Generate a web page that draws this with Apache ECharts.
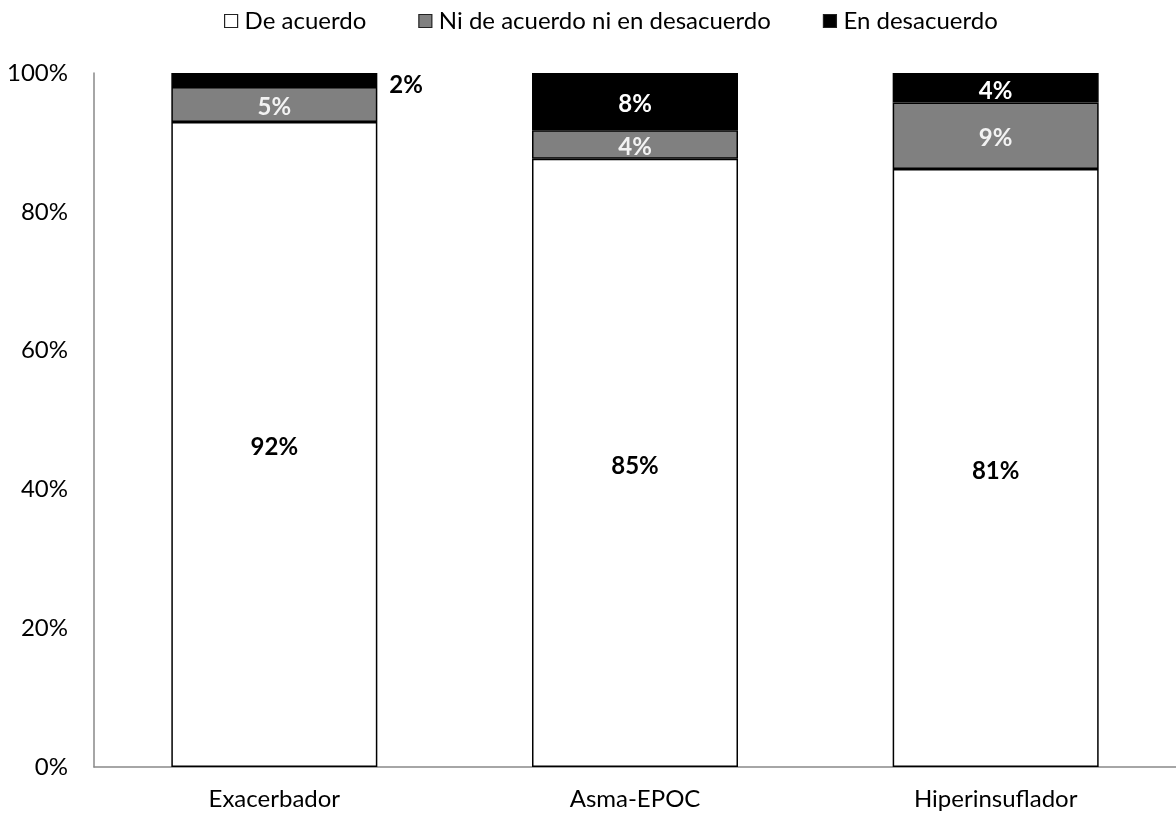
<!DOCTYPE html>
<html>
<head>
<meta charset="utf-8">
<script src="https://cdn.jsdelivr.net/npm/echarts@6/dist/echarts.min.js"></script>
<style>
  html, body { margin: 0; padding: 0; background: #fff; }
  #chart { width: 1176px; height: 816px; }
</style>
</head>
<body>
<div id="chart"></div>
<script>
// Respuestas por fenotipo (porcentajes declarados en las etiquetas)
const categories = ['Exacerbador', 'Asma-EPOC', 'Hiperinsuflador'];
const deAcuerdo = [92, 85, 81];
const niNi = [5, 4, 9];
const enDesacuerdo = [2, 8, 4];
const seriesNames = ['De acuerdo', 'Ni de acuerdo ni en desacuerdo', 'En desacuerdo'];
const yTicks = [0, 20, 40, 60, 80, 100];

const FONT = 'Lato, "Open Sans", sans-serif';
const FS = 24;

// Each column is stacked to 100% of its own total
const totals = categories.map((_, i) => deAcuerdo[i] + niNi[i] + enDesacuerdo[i]);
const toShare = (arr) => arr.map((v, i) => ({ value: v / totals[i] * 100, raw: v }));

const fills = ['#ffffff', '#808080', '#000000'];
const labelColors = ['#000000', '#f2f2f2', '#ffffff'];

function buildSeries(name, arr, idx) {
  const data = toShare(arr).map(d => {
    const item = { value: d.value, raw: d.raw };
    // Thin segments get their label beside the bar
    if (d.value < 3) {
      item.label = { position: 'right', color: '#000', distance: 12, offset: [0, 5] };
    }
    return item;
  });
  return {
    name: name,
    type: 'bar',
    stack: 'total',
    barWidth: 206,
    data: data,
    itemStyle: { color: fills[idx], borderColor: '#000', borderWidth: 1.5 },
    label: {
      show: true,
      position: 'inside',
      offset: [0, 3],
      color: labelColors[idx],
      fontFamily: FONT,
      fontWeight: 'bold',
      fontSize: FS,
      formatter: p => p.data.raw + '%'
    },
    emphasis: { disabled: true }
  };
}

const chart = echarts.init(document.getElementById('chart'), null, { renderer: 'canvas' });
chart.setOption({
  animation: false,
  backgroundColor: '#fff',
  legend: {
    top: 4,
    left: 219,
    itemWidth: 13,
    itemHeight: 13,
    itemGap: 52,
    icon: 'rect',
    textStyle: { fontFamily: FONT, fontSize: FS, color: '#000', padding: [0, 0, 0, 2] },
    data: seriesNames.map((n, i) => ({
      name: n,
      itemStyle: { color: fills[i], borderColor: '#222', borderWidth: 1.2 }
    }))
  },
  grid: { left: 94, right: -7, top: 73, bottom: 49, containLabel: false },
  xAxis: {
    type: 'category',
    data: categories,
    axisTick: { show: false },
    axisLine: { lineStyle: { color: '#898989', width: 1.5 } },
    axisLabel: { fontFamily: FONT, fontSize: FS, color: '#000', margin: 20 }
  },
  yAxis: {
    type: 'value',
    min: yTicks[0],
    max: yTicks[yTicks.length - 1],
    interval: yTicks[1] - yTicks[0],
    axisLine: { show: true, lineStyle: { color: '#898989', width: 1.5 } },
    axisTick: { show: false },
    splitLine: { show: false },
    axisLabel: { fontFamily: FONT, fontSize: FS, color: '#000', margin: 26, formatter: '{value}%' }
  },
  series: [
    buildSeries(seriesNames[0], deAcuerdo, 0),
    buildSeries(seriesNames[1], niNi, 1),
    buildSeries(seriesNames[2], enDesacuerdo, 2)
  ]
});
</script>
</body>
</html>
